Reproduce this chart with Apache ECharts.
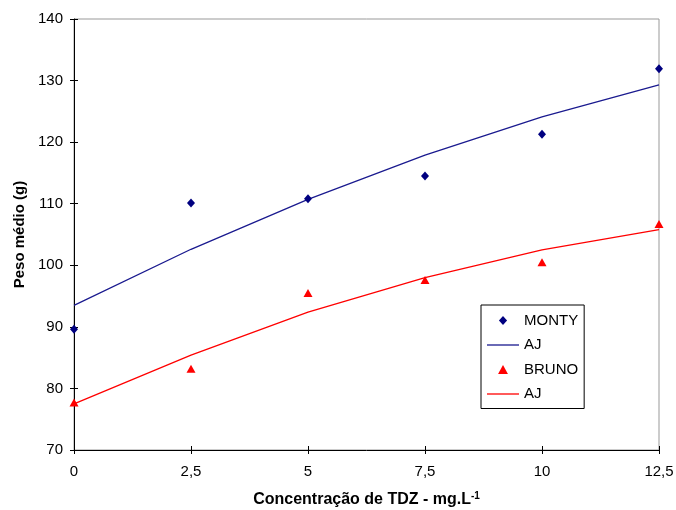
<!DOCTYPE html>
<html>
<head>
<meta charset="utf-8">
<script src="https://cdn.jsdelivr.net/npm/echarts@6/dist/echarts.min.js"></script>
<style>
html,body{margin:0;padding:0;background:#fff;}
#chart{width:676px;height:510px;}
</style>
</head>
<body>
<div id="chart"></div>
<script>
const concentrations = [0, 2.5, 5, 7.5, 10, 12.5];
const montyObserved = [89.6, 110.1, 110.8, 114.5, 121.3, 131.9];
const montyFitted = [93.5, 102.6, 110.7, 117.9, 124.1, 129.3];
const brunoObserved = [77.7, 83.2, 95.5, 97.6, 100.5, 106.7];
const brunoFitted = [77.5, 85.4, 92.4, 98.0, 102.5, 105.8];
const seriesNames = ['MONTY', 'AJ', 'BRUNO', 'AJ '];

const pair = (xs, ys) => xs.map((x, i) => [x, ys[i]]);
const font = 'Liberation Sans, Arial, sans-serif';
const diamondIcon = 'path://M0,-1L0.9,0L0,1L-0.9,0Z';
const triangleIcon = 'path://M0,-1L1.1,1L-1.1,1Z';
const lineIcon = 'path://M0,0H32V1.3H0Z';

const chart = echarts.init(document.getElementById('chart'), null, {renderer: 'canvas'});
chart.setOption({
  animation: false,
  backgroundColor: '#ffffff',
  textStyle: {fontFamily: font},
  grid: {left: 74, right: 17, top: 19, bottom: 60, show: true, borderColor: '#999999', borderWidth: 1,
         containLabel: false, outerBoundsMode: 'none'},
  legend: {
    orient: 'vertical',
    left: 481, top: 305,
    padding: [8, 6, 7, 6],
    borderColor: '#000', borderWidth: 1,
    backgroundColor: '#fff',
    itemWidth: 32, itemHeight: 9,
    itemGap: 9.5,
    symbolKeepAspect: true,
    textStyle: {fontFamily: font, fontSize: 15, color: '#000'},
    data: [
      {name: seriesNames[0], icon: diamondIcon},
      {name: seriesNames[1], icon: lineIcon},
      {name: seriesNames[2], icon: triangleIcon},
      {name: seriesNames[3], icon: lineIcon}
    ],
    formatter: n => n.trim()
  },
  xAxis: [{
    type: 'value', min: 0, max: 12.5, interval: 2.5,
    name: '{a|Concentração de TDZ - mg.L}{b|-1}',
    nameLocation: 'middle', nameGap: 41,
    nameTextStyle: {
      rich: {
        a: {fontFamily: font, fontSize: 16, fontWeight: 'bold', color: '#000', lineHeight: 18},
        b: {fontFamily: font, fontSize: 10, fontWeight: 'bold', color: '#000', verticalAlign: 'top', lineHeight: 18, padding: [0, 0, 7, 0]}
      }
    },
    axisLine: {lineStyle: {color: '#000', width: 1}},
    axisTick: {length: 4, lineStyle: {color: '#000'}},
    splitLine: {show: false},
    axisLabel: {color: '#000', fontSize: 15, fontFamily: font, margin: 14,
      formatter: v => String(v).replace('.', ',')}
  }, {
    type: 'value', min: 0, max: 12.5, interval: 2.5, position: 'bottom',
    axisLine: {show: false},
    axisTick: {show: true, inside: true, length: 4, lineStyle: {color: '#000'}},
    axisLabel: {show: false},
    splitLine: {show: false}
  }],
  yAxis: [{
    type: 'value', min: 70, max: 140, interval: 10,
    name: 'Peso médio (g)',
    nameLocation: 'middle', nameGap: 47,
    nameTextStyle: {fontFamily: font, fontSize: 15, fontWeight: 'bold', color: '#000'},
    axisLine: {show: true, lineStyle: {color: '#000', width: 1}},
    axisTick: {show: true, length: 4, lineStyle: {color: '#000'}},
    splitLine: {show: false},
    axisLabel: {color: '#000', fontSize: 15, fontFamily: font, margin: 11}
  }, {
    type: 'value', min: 70, max: 140, interval: 10, position: 'left',
    axisLine: {show: false},
    axisTick: {show: true, inside: true, length: 4, lineStyle: {color: '#000'}},
    axisLabel: {show: false},
    splitLine: {show: false}
  }],
  series: [
    {name: seriesNames[0], type: 'scatter', symbol: 'diamond', symbolSize: [8, 9],
     itemStyle: {color: '#000080', opacity: 1}, data: pair(concentrations, montyObserved), z: 5},
    {name: seriesNames[1], type: 'line', symbol: 'none', showSymbol: false,
     lineStyle: {color: '#1a1a8f', width: 1.3}, itemStyle: {color: '#1a1a8f'},
     data: pair(concentrations, montyFitted)},
    {name: seriesNames[2], type: 'scatter', symbol: 'triangle', symbolSize: [9, 8],
     itemStyle: {color: '#ff0000', opacity: 1}, data: pair(concentrations, brunoObserved), z: 5},
    {name: seriesNames[3], type: 'line', symbol: 'none', showSymbol: false,
     lineStyle: {color: '#ff0000', width: 1.3}, itemStyle: {color: '#ff0000'},
     data: pair(concentrations, brunoFitted)}
  ]
});
</script>
</body>
</html>
